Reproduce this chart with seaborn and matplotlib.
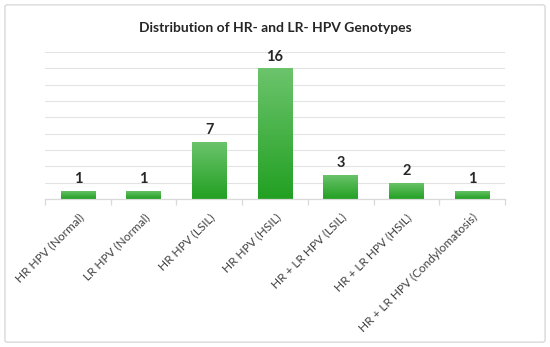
import numpy as np
import pandas as pd
import matplotlib
matplotlib.use("Agg")
import matplotlib.pyplot as plt
import seaborn as sns
from matplotlib.patches import FancyBboxPatch
from matplotlib.colors import LinearSegmentedColormap

categories = ["HR HPV (Normal)", "LR HPV (Normal)", "HR HPV (LSIL)", "HR HPV (HSIL)",
              "HR + LR HPV (LSIL)", "HR + LR HPV (HSIL)", "HR + LR HPV (Condylomatosis)"]
counts = [1, 1, 7, 16, 3, 2, 1]
title = "Distribution of HR- and LR- HPV Genotypes"

sns.set_theme(style="white")
plt.rcParams['font.family'] = ['Lato', 'DejaVu Sans']

fig = plt.figure(figsize=(5.5, 3.47), dpi=100)
ax = fig.add_axes([0.082, 0.4265, 0.836, 0.4235])

df = pd.DataFrame({"cat": categories, "n": counts})
sns.barplot(data=df, x="cat", y="n", color="#3cb43c", width=0.53, ax=ax, saturation=1)

ax.set_ylim(0, 18)
ax.set_xlim(-0.5, len(categories) - 0.5)
ax.set_yticks(np.arange(0, 19, 2))
ax.yaxis.grid(True, color="#e3e3e3", linewidth=0.8)
ax.set_axisbelow(True)
ax.tick_params(axis="y", left=False, labelleft=False)
for s in ["top", "right", "left"]:
    ax.spines[s].set_visible(False)
ax.spines["bottom"].set_color("#d9d9d9")
ax.spines["bottom"].set_linewidth(0.9)
ax.set_xlabel("")
ax.set_ylabel("")

# gradient fill
cmap = LinearSegmentedColormap.from_list("g", ["#22a022", "#6cc46c"])
grad = np.linspace(0, 1, 256).reshape(-1, 1)
for p in ax.patches:
    x0, y0 = p.get_x(), p.get_y()
    w, h = p.get_width(), p.get_height()
    p.set_facecolor("none")
    p.set_edgecolor("none")
    im = ax.imshow(grad, extent=[x0, x0 + w, y0, y0 + h], origin="lower",
                   cmap=cmap, aspect="auto", zorder=2)
    im.set_clip_path(p)
    ax.text(x0 + w / 2, h + 0.55, str(int(round(h))), ha="center", va="bottom",
            fontsize=10.5, fontweight="bold", color="#262626")
ax.set_xlim(-0.5, len(categories) - 0.5)
ax.set_ylim(0, 18)

ax.set_xticks(range(len(categories)))
ax.set_xticklabels(categories, rotation=45, ha="right", rotation_mode="anchor",
                   fontsize=8.5, color="#404040")
ax.set_xticks(np.arange(-0.5, len(categories), 1), minor=True)
ax.tick_params(axis="x", which="major", length=0, pad=9)
ax.tick_params(axis="x", which="minor", length=4, color="#d9d9d9", width=0.9, bottom=True)

fig.text(0.5, 0.92, title, ha="center", va="center", fontsize=10,
         fontweight="bold", color="#262626")

frame = FancyBboxPatch((0.009, 0.014), 0.982, 0.972, boxstyle="round,pad=0,rounding_size=0.005",
                       transform=fig.transFigure, facecolor="none", edgecolor="#d9d9d9",
                       linewidth=1.0)
fig.patches.append(frame)

fig.savefig("out.png", dpi=100)
